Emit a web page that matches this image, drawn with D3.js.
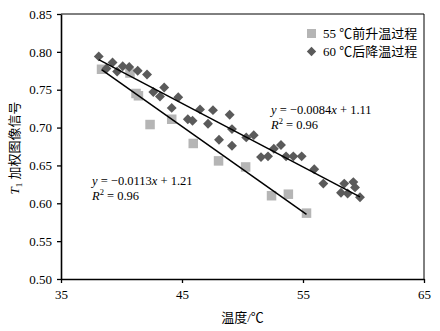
<!DOCTYPE html>
<html>
<head>
<meta charset="utf-8">
<script src="https://cdn.jsdelivr.net/npm/d3@7"></script>
<style>
  body { margin: 0; background: #fff; }
  svg text { font-family: "Liberation Serif", "Noto Sans CJK SC", serif; }
</style>
</head>
<body>
<svg id="chart" width="440" height="331"></svg>
<script>
// 55 ℃前升温过程 (squares)
let heatT = [38.35, 40.70, 41.20, 41.40, 42.36, 44.15, 45.93, 48.02, 50.26, 52.40, 53.79, 55.29];
let heatV = [0.777, 0.772, 0.745, 0.742, 0.704, 0.711, 0.679, 0.656, 0.648, 0.610, 0.612, 0.587];

// 60 ℃后降温过程 (diamonds)
let coolT = [38.12, 38.76, 39.26, 39.64, 40.10, 40.64, 41.34, 42.11, 42.63, 43.18, 43.53, 44.15, 44.69,
             45.48, 45.87, 46.49, 47.15, 47.56, 48.06, 48.94, 49.13, 49.13, 50.31, 50.93, 51.53, 52.11,
             52.59, 53.18, 53.60, 54.20, 54.89, 55.93, 56.68, 58.14, 58.41, 58.69, 59.16, 59.30, 59.71];
let coolV = [0.794, 0.778, 0.786, 0.774, 0.781, 0.780, 0.775, 0.770, 0.747, 0.741, 0.753, 0.726, 0.740,
             0.711, 0.709, 0.724, 0.705, 0.723, 0.684, 0.717, 0.698, 0.676, 0.687, 0.690, 0.661, 0.662,
             0.672, 0.677, 0.662, 0.662, 0.662, 0.645, 0.626, 0.614, 0.626, 0.613, 0.628, 0.621, 0.608];

// fitted lines: slope, intercept
let heatFit = [-0.0113, 1.21];
let coolFit = [-0.0084, 1.11];

let xTicks = [35, 45, 55, 65];
let yTicks = [0.50, 0.55, 0.60, 0.65, 0.70, 0.75, 0.80, 0.85];
let legendNames = ["55 \u2103前升温过程", "60 \u2103后降温过程"];

let svg = d3.select("#chart");
let marginLeft = 61, marginTop = 14;
let width = 363, height = 265;

let g = svg.append("g").attr("transform", "translate(" + marginLeft + "," + marginTop + ")");

let xScale = d3.scaleLinear().domain([35, 65]).range([0, width]);
let yScale = d3.scaleLinear().domain([0.5, 0.85]).range([height, 0]);

// frame top / right
g.append("line").attr("x1", 0).attr("x2", width).attr("y1", 0).attr("y2", 0)
  .attr("stroke", "#000").attr("stroke-width", 1);
g.append("line").attr("x1", width).attr("x2", width).attr("y1", 0).attr("y2", height)
  .attr("stroke", "#000").attr("stroke-width", 1);

let xAxis = d3.axisBottom(xScale).tickValues(xTicks).tickSize(4).tickSizeOuter(0).tickPadding(7);
let yAxis = d3.axisLeft(yScale).tickValues(yTicks).tickFormat(d3.format(".2f")).tickSize(4).tickSizeOuter(0).tickPadding(5);

let gx = g.append("g").attr("transform", "translate(0," + height + ")").call(xAxis);
let gy = g.append("g").call(yAxis);
[gx, gy].forEach(function(a) {
  a.select(".domain").attr("stroke-width", 1.6);
  a.selectAll(".tick line").attr("stroke-width", 1.3);
  a.selectAll("text").attr("font-size", 13).attr("fill", "#000")
    .style("font-family", "'Liberation Serif', serif");
});

// regression lines
function fitLine(xs, fit) {
  let x0 = d3.min(xs), x1 = d3.max(xs);
  return [[x0, fit[0] * x0 + fit[1]], [x1, fit[0] * x1 + fit[1]]];
}
let lineGen = d3.line().x(d => xScale(d[0])).y(d => yScale(d[1]));

// squares
let sq = 9.5;
g.selectAll(".sq").data(heatT).enter().append("rect")
  .attr("class", "sq")
  .attr("x", (d) => xScale(d) - sq / 2)
  .attr("y", (d, i) => yScale(heatV[i]) - sq / 2)
  .attr("width", sq).attr("height", sq)
  .attr("fill", "#b5b5b5");

// diamonds
let dm = 7;
g.selectAll(".dm").data(coolT).enter().append("rect")
  .attr("class", "dm")
  .attr("x", -dm / 2).attr("y", -dm / 2)
  .attr("width", dm).attr("height", dm)
  .attr("transform", (d, i) => "translate(" + xScale(d) + "," + yScale(coolV[i]) + ") rotate(45)")
  .attr("fill", "#5a5a5a");

g.append("path").datum(fitLine(heatT, heatFit)).attr("d", lineGen)
  .attr("stroke", "#000").attr("stroke-width", 1.5).attr("fill", "none");
g.append("path").datum(fitLine(coolT, coolFit)).attr("d", lineGen)
  .attr("stroke", "#000").attr("stroke-width", 1.5).attr("fill", "none");

// equations
function equation(x, y, fit) {
  let t = svg.append("text").attr("x", x).attr("y", y).attr("font-size", 12.5)
    .style("font-family", "'Liberation Serif', serif");
  t.append("tspan").attr("font-style", "italic").text("y");
  t.append("tspan").text(" = \u2212" + Math.abs(fit[0]).toFixed(4));
  t.append("tspan").attr("font-style", "italic").text("x");
  t.append("tspan").text(" + " + fit[1].toFixed(2));
  let r = svg.append("text").attr("x", x).attr("y", y + 15).attr("font-size", 12.5)
    .style("font-family", "'Liberation Serif', serif");
  r.append("tspan").attr("font-style", "italic").text("R");
  r.append("tspan").attr("font-size", 8.5).attr("dy", -5).text("2");
  r.append("tspan").attr("dy", 5).text(" = 0.96");
}
equation(271, 114, coolFit);
equation(92, 185, heatFit);

// legend
let lg = svg.append("g");
lg.append("rect").attr("x", 307).attr("y", 29).attr("width", 9).attr("height", 9).attr("fill", "#b5b5b5");
lg.append("rect").attr("x", -3.3).attr("y", -3.3).attr("width", 6.6).attr("height", 6.6)
  .attr("transform", "translate(311.5,51.5) rotate(45)").attr("fill", "#5a5a5a");
legendNames.forEach(function(n, i) {
  lg.append("text").attr("x", 323).attr("y", 38 + i * 18).attr("font-size", 13).text(n);
});

// axis titles
svg.append("text").attr("x", marginLeft + width / 2).attr("y", 322)
  .attr("text-anchor", "middle").attr("font-size", 13).text("温度/\u2103");

let yt = svg.append("text").attr("transform", "translate(19,148) rotate(-90)")
  .attr("text-anchor", "middle").attr("font-size", 13);
yt.append("tspan").attr("font-style", "italic").text("T");
yt.append("tspan").attr("font-size", 9).attr("dy", 3).text("1");
yt.append("tspan").attr("dy", -3).text(" 加权图像信号");
</script>
</body>
</html>
